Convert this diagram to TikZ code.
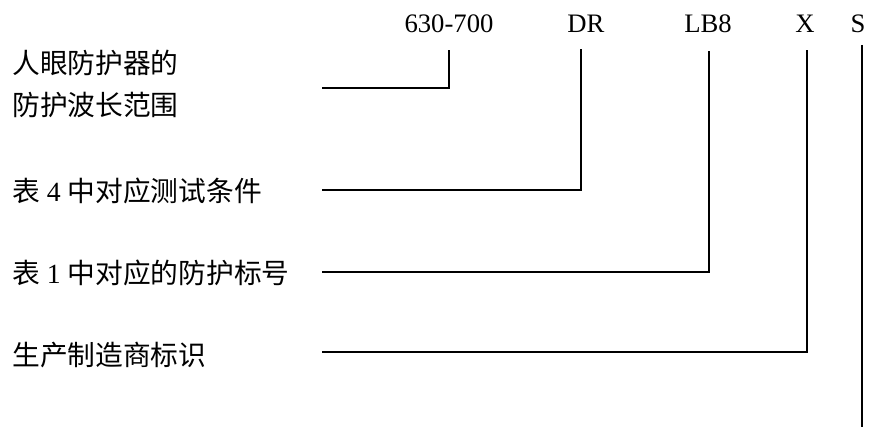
\documentclass[tikz,border=0pt]{standalone}
\usepackage{fontspec}
\setmainfont{Liberation Serif}
\newfontfamily\cjk{Noto Sans CJK SC}

\begin{document}
\begin{tikzpicture}[x=0.75pt,y=-0.75pt]
				\tikzset{code/.style={anchor=base, inner sep=0pt, font=\fontsize{20}{24}\selectfont},
						desc/.style={anchor=west, inner sep=0pt, font=\fontsize{20.8}{24}\selectfont\cjk},
						lead/.style={line width=0.9pt}}
				\useasboundingbox (0,0) rectangle (875,427);
				
				%% MARKING CODE
				\node[code] (Range) at (449,33) {630-700};
				\node[code] (Cond) at (586,33) {DR};
				\node[code] (Grade) at (708,33) {LB8};
				\node[code] (Maker) at (805,33) {X};
				\node[code] (Mark) at (858,33) {S};
				
				%% DESCRIPTIONS
				\node[desc] (RangeA) at (12,63) {人眼防护器的};
				\node[desc] (RangeB) at (12,105) {防护波长范围};
				\node[desc] (CondD) at (12,191) {表{\rmfamily\ 4\ }中对应测试条件};
				\node[desc] (GradeD) at (12,273) {表{\rmfamily\ 1\ }中对应的防护标号};
				\node[desc] (MakerD) at (12,355) {生产制造商标识};
				
				%% LEADER LINES
				\coordinate (RangeTop) at (449,50);
				\coordinate (CondTop) at (581,49);
				\coordinate (GradeTop) at (709,51);
				\coordinate (MakerTop) at (807,50);
				\coordinate (MarkTop) at (862,45);
				\coordinate (RangeEnd) at (322,88);
				\coordinate (CondEnd) at (322,190);
				\coordinate (GradeEnd) at (322,272);
				\coordinate (MakerEnd) at (322,352);
				\coordinate (MarkEnd) at (862,427);
				
				\draw[lead] (RangeEnd) -| (RangeTop);
				\draw[lead] (CondEnd) -| (CondTop);
				\draw[lead] (GradeEnd) -| (GradeTop);
				\draw[lead] (MakerEnd) -| (MakerTop);
				\draw[lead] (MarkTop) -- (MarkEnd);
				
			\end{tikzpicture}
\end{document}
